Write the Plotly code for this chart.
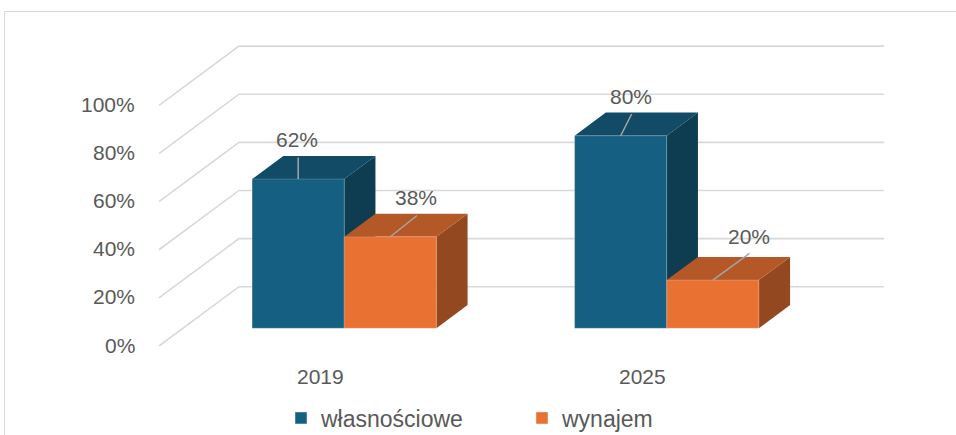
import plotly.graph_objects as go

# ---------------- data ----------------
categories = ["2019", "2025"]
series_names = ["własnościowe", "wynajem"]
wlasnosciowe = [62, 80]
wynajem = [38, 20]
series_values = [wlasnosciowe, wynajem]
y_ticks = [0, 20, 40, 60, 80, 100]
y_tick_labels = ["0%", "20%", "40%", "60%", "80%", "100%"]

# ---------------- style / geometry ----------------
front_colors = ["#156082", "#E97132"]
top_colors = ["#114B66", "#B45828"]
side_colors = ["#0E3C51", "#94481F"]
text_color = "#595959"
grid_color = "#D9D9D9"
font_family = "Liberation Sans, Arial, sans-serif"

W, H = 956, 435
PX_CAT = 322.5        # pixels per category unit
PX_PCT = 2.406        # pixels per percent
ORIGIN_X = 159        # pixel of floor-front left
ORIGIN_Y = 346        # pixel of 0% on front plane
DX = 80 / PX_CAT      # full depth vector (category units)
DY = 59.3 / PX_PCT    # full depth vector (percent units)
F0 = 0.30             # depth fraction of bar front
BD = 0.39             # depth fraction of bar thickness
BW = 1 / 3.5          # bar width (gap width 150%)

# data label offsets (pixels) : leader end, text centre
leader_px = [[(0, 21.6), (11, 21.7)], [(26.7, 21.3), (36.7, 26.7)]]
text_px = [[(-1, 39.3), (10.3, 39.3)], [(26, 39.3), (36, 43.3)]]

x_range = [-ORIGIN_X / PX_CAT, (W - ORIGIN_X) / PX_CAT]
y_range = [(ORIGIN_Y - H) / PX_PCT, ORIGIN_Y / PX_PCT]

fig = go.Figure()

# back wall gridlines with diagonal floor-to-wall segment
n_cat = len(categories)
for t in y_ticks:
    fig.add_trace(go.Scatter(
        x=[0, DX, n_cat + DX], y=[t, t + DY, t + DY], mode="lines",
        line=dict(color=grid_color, width=1.6), showlegend=False, hoverinfo="skip"))

ox, oy = F0 * DX, F0 * DY
bdx, bdy = BD * DX, BD * DY
annotations = []
for ci, cat in enumerate(categories):
    center = ci + 0.5 + ox
    for si, vals in enumerate(series_values):
        v = vals[ci]
        xl = center - BW + si * BW
        xr = xl + BW
        b, tp = oy, oy + v
        # side face
        fig.add_trace(go.Scatter(
            x=[xr, xr + bdx, xr + bdx, xr, xr], y=[b, b + bdy, tp + bdy, tp, b],
            fill="toself", fillcolor=side_colors[si], mode="lines",
            line=dict(width=0, color=side_colors[si]), showlegend=False, hoverinfo="skip"))
        # top face
        fig.add_trace(go.Scatter(
            x=[xl, xr, xr + bdx, xl + bdx, xl], y=[tp, tp, tp + bdy, tp + bdy, tp],
            fill="toself", fillcolor=top_colors[si], mode="lines",
            line=dict(width=0, color=top_colors[si]), showlegend=False, hoverinfo="skip"))
        # front face
        fig.add_trace(go.Scatter(
            x=[xl, xr, xr, xl, xl], y=[b, b, tp, tp, b],
            fill="toself", fillcolor=front_colors[si], mode="lines",
            line=dict(width=0.6, color="rgba(255,255,255,0.35)"), showlegend=False,
            hoverinfo="skip"))
        # leader line + label
        xc = (xl + xr) / 2
        lx, ly = leader_px[si][ci]
        fig.add_trace(go.Scatter(
            x=[xc, xc + lx / PX_CAT], y=[tp, tp + ly / PX_PCT], mode="lines",
            line=dict(color="#A6A6A6", width=1.5), showlegend=False, hoverinfo="skip"))
        tx, ty = text_px[si][ci]
        annotations.append(dict(
            x=xc, y=tp, xref="x", yref="y", text=f"{v}%", showarrow=False,
            xshift=tx, yshift=ty, font=dict(size=21, color=text_color, family=font_family)))
    # category label
    annotations.append(dict(
        x=ci + 0.5, y=0, xref="x", yref="y", text=cat, showarrow=False,
        yshift=-30, font=dict(size=21, color=text_color, family=font_family)))

# value axis labels
for t, lab in zip(y_ticks, y_tick_labels):
    annotations.append(dict(
        x=0, y=t, xref="x", yref="y", text=lab, showarrow=False, xanchor="right",
        xshift=-22, yshift=1, font=dict(size=21, color=text_color, family=font_family)))

# legend entries
for si, name in enumerate(series_names):
    fig.add_trace(go.Bar(x=[None], y=[None], name=name, marker_color=front_colors[si]))

fig.update_layout(
    width=W, height=H, autosize=False,
    margin=dict(l=0, r=0, t=0, b=0, autoexpand=False),
    paper_bgcolor="white", plot_bgcolor="white",
    xaxis=dict(range=x_range, visible=False, fixedrange=True),
    yaxis=dict(range=y_range, visible=False, fixedrange=True),
    annotations=annotations,
    showlegend=True,
    legend=dict(orientation="h", x=281 / W, xanchor="left", y=1 - 418 / H, yanchor="middle",
                entrywidth=196, entrywidthmode="pixels",
                font=dict(size=23, color=text_color, family=font_family),
                bgcolor="rgba(0,0,0,0)"),
    shapes=[dict(type="rect", xref="paper", yref="paper", x0=4.5 / W, x1=1.05,
                 y0=-0.05, y1=1 - 11.5 / H, line=dict(color="#D9D9D9", width=1))],
)

fig.write_html("out.html", config={"displayModeBar": False},
               post_script="document.body.style.margin='0';")
